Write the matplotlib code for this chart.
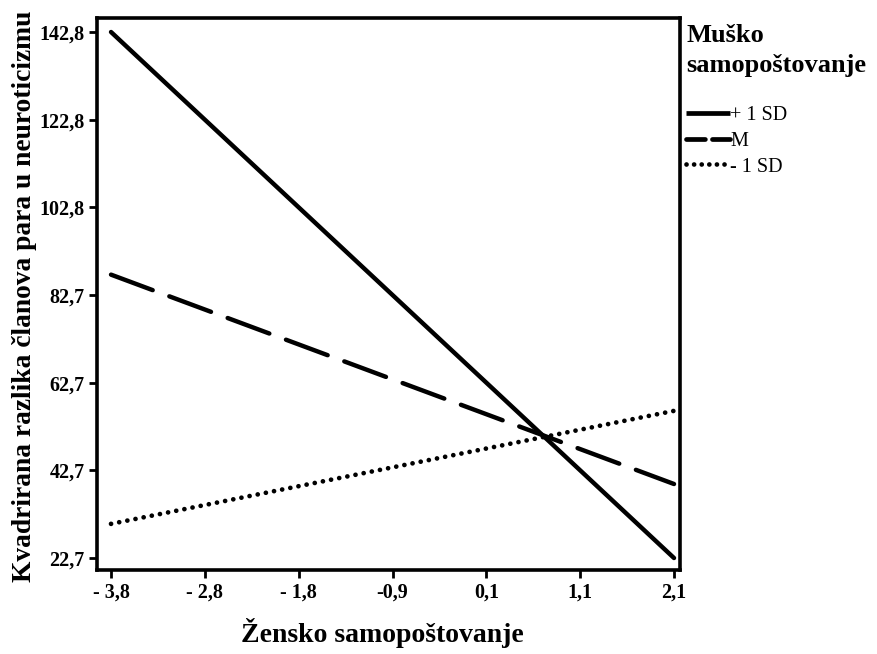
import matplotlib.pyplot as plt
from matplotlib.lines import Line2D
import numpy as np

plt.rcParams['font.family'] = ['Liberation Serif', 'DejaVu Serif']

# x range of the predictor (female self-esteem)
x_ends = [-3.8, 2.1]
# predicted values at the two ends for each level of male self-esteem
plus_sd = [142.8, 22.7]
mean_m = [87.4, 39.6]
minus_sd = [30.5, 56.3]
series_names = ["+ 1 SD", "M", "- 1 SD"]

x_ticks = np.linspace(-3.8, 2.1, 7)
x_labels = ["- 3,8", "- 2,8", "- 1,8", "-0,9", "0,1", "1,1", "2,1"]
y_ticks = np.linspace(22.7, 142.8, 7)
y_labels = ["22,7", "42,7", "62,7", "82,7", "102,8", "122,8", "142,8"]

fig = plt.figure(figsize=(8.77, 6.54), dpi=100)
ax = fig.add_axes([0.1106, 0.1284, 0.6648, 0.8441])

ax.plot(x_ends, plus_sd, color="black", lw=3.2, solid_capstyle="round")
ax.plot(x_ends, mean_m, color="black", lw=3.2, linestyle=(0, (10, 4)), dash_capstyle="round")
ax.plot(x_ends, minus_sd, color="black", lw=3.4, linestyle=(0, (0.01, 1.75)), dash_capstyle="round")

ax.set_xlim(-3.947, 2.163)
ax.set_ylim(19.96, 146.0)
ax.set_xticks(x_ticks)
ax.set_xticklabels(x_labels, fontsize=14.5, fontweight="bold")
ax.set_yticks(y_ticks)
ax.set_yticklabels(y_labels, fontsize=14.5, fontweight="bold")
ax.tick_params(direction="out", length=6, width=2, pad=3)
for s in ax.spines.values():
    s.set_linewidth(2.6)

ax.set_xlabel("Žensko samopoštovanje", fontsize=20, fontweight="bold")
ax.set_ylabel("Kvadrirana razlika članova para u neuroticizmu", fontsize=19.8, fontweight="bold")
ax.xaxis.set_label_coords(0.489, -0.087)
ax.yaxis.set_label_coords(-0.103, 0.495)

# legend title written separately so the gap below it matches
fig.text(0.783, 0.963, "Muško\nsamopoštovanje", fontsize=19, fontweight="bold",
         ha="left", va="top", linespacing=1.38)

# legend handles with shorter dashes, like the original
handles = [
    Line2D([], [], color="black", lw=3.4, solid_capstyle="butt"),
    Line2D([], [], color="black", lw=3.4, linestyle=(0, (4, 1.5)), dash_capstyle="round"),
    Line2D([], [], color="black", lw=3.4, linestyle=(0, (0.01, 1.6)), dash_capstyle="round"),
]
leg = fig.legend(handles, series_names, loc="upper left", bbox_to_anchor=(0.782, 0.838),
                 frameon=False, fontsize=14.5, handlelength=2.2, handletextpad=0.0,
                 borderpad=0.0, borderaxespad=0.0, labelspacing=0.33)

fig.savefig("out.png", dpi=100)
